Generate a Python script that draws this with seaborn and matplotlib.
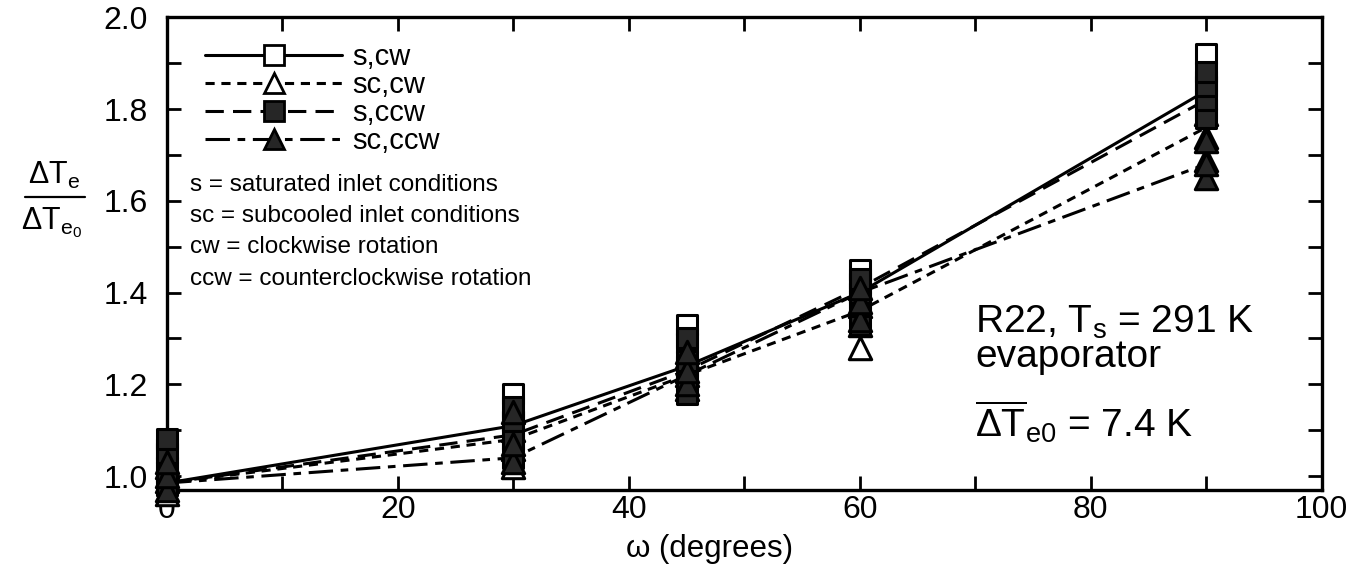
import numpy as np
import pandas as pd
import matplotlib
matplotlib.use("Agg")
import matplotlib.pyplot as plt
from matplotlib.lines import Line2D
from matplotlib.ticker import MultipleLocator
import seaborn as sns

# rotation angle (degrees) at which the runs were taken
angles = [0, 30, 45, 60, 90]

# measured ratios dT_e / dT_e0, several runs per angle
s_cw = [[0.98, 1.02, 1.06], [1.08, 1.12, 1.18], [1.24, 1.29, 1.33],
        [1.38, 1.42, 1.45], [1.80, 1.86, 1.92]]
sc_cw = [[0.96, 0.99, 1.02], [1.02, 1.06, 1.10], [1.19, 1.22, 1.26],
         [1.28, 1.33, 1.37], [1.69, 1.74, 1.79]]
s_ccw = [[0.98, 1.01, 1.05, 1.08], [1.04, 1.08, 1.12, 1.15], [1.18, 1.21, 1.25, 1.30],
         [1.33, 1.37, 1.40, 1.43], [1.78, 1.82, 1.85, 1.88]]
sc_ccw = [[0.97, 1.00, 1.03], [1.03, 1.07, 1.14], [1.20, 1.23, 1.27],
          [1.34, 1.38, 1.41], [1.65, 1.68, 1.73]]

# curves drawn through each data set
s_cw_line = [0.985, 1.11, 1.24, 1.40, 1.84]
sc_cw_line = [0.985, 1.08, 1.22, 1.36, 1.76]
s_ccw_line = [0.985, 1.09, 1.23, 1.41, 1.82]
sc_ccw_line = [0.985, 1.04, 1.22, 1.40, 1.68]

series_names = ["s,cw", "sc,cw", "s,ccw", "sc,ccw"]
point_sets = [s_cw, sc_cw, s_ccw, sc_ccw]
line_sets = [s_cw_line, sc_cw_line, s_ccw_line, sc_ccw_line]

notes = ["s = saturated inlet conditions",
         "sc = subcooled inlet conditions",
         "cw = clockwise rotation",
         "ccw = counterclockwise rotation"]

# build long-form tables
pts = []
for name, sets in zip(series_names, point_sets):
    for a, vals in zip(angles, sets):
        for v in vals:
            pts.append({"angle": a, "ratio": v, "series": name})
pts = pd.DataFrame(pts)

lines = []
for name, vals in zip(series_names, line_sets):
    for a, v in zip(angles, vals):
        lines.append({"angle": a, "ratio": v, "series": name})
lines = pd.DataFrame(lines)

sns.set_style("ticks")
plt.rcParams["font.family"] = ["Liberation Sans", "DejaVu Sans"]
plt.rcParams["mathtext.fontset"] = "custom"
plt.rcParams["mathtext.rm"] = "Liberation Sans"
plt.rcParams["mathtext.it"] = "Liberation Sans"
plt.rcParams["mathtext.bf"] = "Liberation Sans:bold"
for k in ["text.color", "axes.edgecolor", "axes.labelcolor", "xtick.color", "ytick.color"]:
    plt.rcParams[k] = "black"

fig = plt.figure(figsize=(13.64, 5.75), dpi=100)
ax = fig.add_axes([0.1224, 0.148, 0.8466, 0.822])

lw = 2.2
dashes = {"s,cw": "", "sc,cw": (3, 2.2), "s,ccw": (6, 3), "sc,ccw": (8, 2.5, 2.5, 2.5)}
palette = {n: "black" for n in series_names}
sns.lineplot(data=lines, x="angle", y="ratio", hue="series", style="series",
             dashes=dashes, palette=palette, linewidth=lw, legend=False, ax=ax,
             zorder=2)

marker_style = {
    "s,cw": dict(marker="s", fc="white", s=190),
    "sc,cw": dict(marker="^", fc="white", s=260),
    "s,ccw": dict(marker="s", fc="#262626", s=190),
    "sc,ccw": dict(marker="^", fc="#262626", s=260),
}
for name in series_names:
    st = marker_style[name]
    sns.scatterplot(data=pts[pts["series"] == name], x="angle", y="ratio",
                    marker=st["marker"], s=st["s"], color=st["fc"],
                    edgecolor="black", linewidth=2.2, ax=ax, zorder=3,
                    clip_on=False, legend=False)

ax.set_xlim(0, 100)
ax.set_ylim(0.97, 2.0)
ax.xaxis.set_major_locator(MultipleLocator(20))
ax.xaxis.set_minor_locator(MultipleLocator(10))
ax.yaxis.set_minor_locator(MultipleLocator(0.1))
ax.set_yticks([1.0, 1.2, 1.4, 1.6, 1.8, 2.0])
ax.set_yticklabels(["1.0", "1.2", "1.4", "1.6", "1.8", "2.0"])
ax.tick_params(which="both", direction="in", length=10, width=2,
               top=True, right=True, labelsize=23)
ax.tick_params(axis="y", pad=14)
ax.tick_params(axis="x", pad=4)
for sp in ax.spines.values():
    sp.set_linewidth(2.4)
ax.set_xlabel("")
ax.set_ylabel("")

fig.text(0.52, 0.045, "\u03c9 (degrees)", fontsize=22.5, ha="center", va="center")

# y label drawn as a stacked fraction
fig.text(0.040, 0.695, r"$\Delta$T$_\mathregular{e}$", fontsize=22, ha="center", va="center")
fig.add_artist(Line2D([0.018, 0.062], [0.657, 0.657], color="black", lw=1.6,
                      transform=fig.transFigure))
fig.text(0.038, 0.612, r"$\Delta$T$_{\mathregular{e_0}}$", fontsize=22, ha="center", va="center")

# legend
handles = []
leg_markers = {"s,cw": ("s", "white"), "sc,cw": ("^", "white"),
               "s,ccw": ("s", "#262626"), "sc,ccw": ("^", "#262626")}
for name in series_names:
    m, fc = leg_markers[name]
    d = dashes[name]
    h = Line2D([], [], color="black", lw=lw, marker=m, markersize=15,
               markerfacecolor=fc, markeredgecolor="black", markeredgewidth=2)
    if d:
        h.set_dashes(d)
    handles.append(h)
leg = ax.legend(handles, series_names, loc="upper left", bbox_to_anchor=(0.033, 0.945),
                frameon=False, fontsize=21, handlelength=4.7, handletextpad=0.35,
                labelspacing=0.0, borderaxespad=0, borderpad=0)

for i, t in enumerate(notes):
    ax.text(0.02, 0.645 - i * 0.066, t, transform=ax.transAxes, fontsize=17.5,
            ha="left", va="center")

ax.text(0.70, 0.395, "R22, T$_\\mathregular{s}$ = 291 K\nevaporator", transform=ax.transAxes,
        fontsize=28, ha="left", va="top", linespacing=0.95)
ax.text(0.70, 0.112, r"$\overline{\Delta T}_{\mathregular{e0}}$ = 7.4 K", transform=ax.transAxes,
        fontsize=28, ha="left", va="baseline")

fig.savefig("out.png", dpi=100)
